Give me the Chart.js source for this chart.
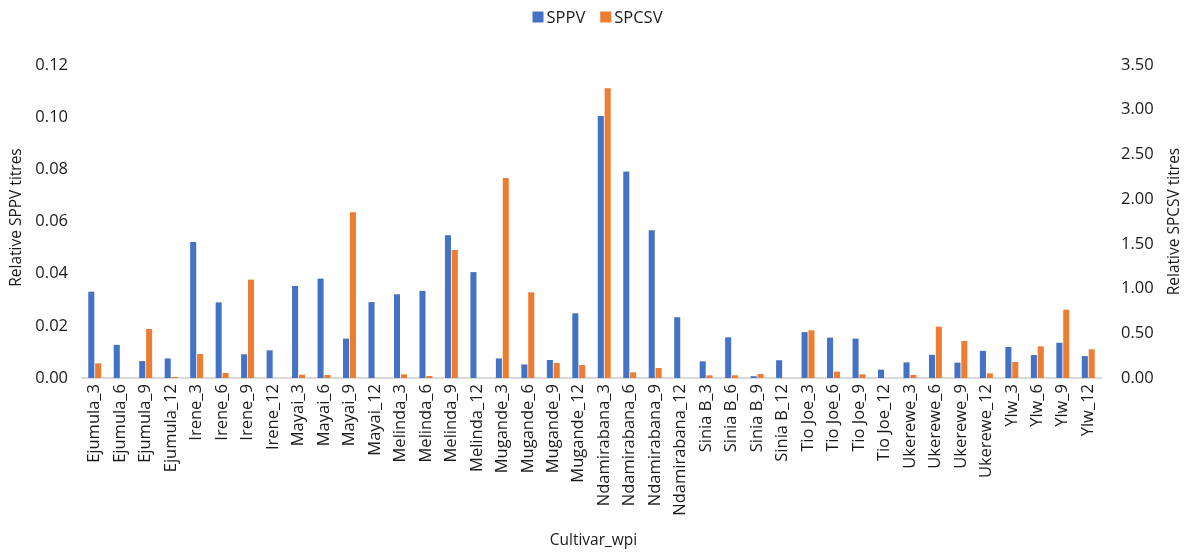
<!DOCTYPE html>
<html>
<head>
<meta charset="utf-8">
<title>SPPV and SPCSV titres by cultivar</title>
<script src="https://cdn.jsdelivr.net/npm/chart.js@4"></script>
<style>
    html, body { margin: 0; padding: 0; background: #fff; }
    #wrap { width: 1189px; height: 553px; }
</style>
</head>
<body>
<div id="wrap"><canvas id="titres"></canvas></div>
<script>
// cultivar x weeks post inoculation
const cultivars = ['Ejumula', 'Irene', 'Mayai', 'Melinda', 'Mugande', 'Ndamirabana', 'Sinia B', 'Tio Joe', 'Ukerewe', 'Ylw'];
const wpi = [3, 6, 9, 12];
const categories = [];
cultivars.forEach(function (c) {
    wpi.forEach(function (w) { categories.push(c + '_' + w); });
});

const sppv = [
    0.0331, 0.0127, 0.0065, 0.0075,
    0.0521, 0.0290, 0.0091, 0.0106,
    0.0353, 0.0381, 0.0151, 0.0291,
    0.0321, 0.0334, 0.0547, 0.0406,
    0.0075, 0.0052, 0.0069, 0.0248,
    0.1004, 0.0792, 0.0566, 0.0233,
    0.0064, 0.0156, 0.0007, 0.0068,
    0.0176, 0.0155, 0.0151, 0.0032,
    0.0060, 0.0089, 0.0059, 0.0104,
    0.0119, 0.0088, 0.0135, 0.0084
];

const spcsv = [
    0.164, 0, 0.548, 0.012,
    0.268, 0.056, 1.100, 0,
    0.037, 0.034, 1.853, 0,
    0.041, 0.022, 1.431, 0,
    2.236, 0.958, 0.168, 0.145,
    3.239, 0.063, 0.112, 0,
    0.030, 0.030, 0.045, 0,
    0.533, 0.071, 0.041, 0,
    0.034, 0.574, 0.414, 0.052,
    0.179, 0.354, 0.764, 0.321
];

const leftTicks = { max: 0.12, step: 0.02 };
const rightTicks = { max: 3.5, step: 0.5 };

const textColor = '#1a1a1a';
const fontFamily = '"Open Sans", "Noto Sans", sans-serif';

// legend row centred above the plot
const legendRow = {
    id: 'legendRow',
    afterDraw(chart) {
        const ctx = chart.ctx;
        ctx.save();
        ctx.font = '16.5px ' + fontFamily;
        ctx.textBaseline = 'middle';
        ctx.textAlign = 'left';
        const box = 11, gap = 3, space = 15, cy = 17;
        const items = chart.data.datasets.map(function (ds) {
            return { text: ds.label, color: ds.backgroundColor, w: ctx.measureText(ds.label).width };
        });
        let total = 0;
        items.forEach(function (it, i) { total += box + gap + it.w + (i ? space : 0); });
        let x = chart.width / 2 - total / 2 + 3;
        items.forEach(function (it) {
            ctx.fillStyle = it.color;
            ctx.fillRect(x, cy - box / 2, box, box);
            ctx.fillStyle = textColor;
            ctx.fillText(it.text, x + box + gap, cy + 1);
            x += box + gap + it.w + space;
        });
        ctx.restore();
    }
};

// axis titles (both y titles read bottom to top)
const axisTitles = {
    id: 'axisTitles',
    afterDraw(chart) {
        const ctx = chart.ctx;
        const area = chart.chartArea;
        const midY = (area.top + area.bottom) / 2 - 4;
        ctx.save();
        ctx.fillStyle = textColor;
        ctx.font = '15.5px ' + fontFamily;
        ctx.textAlign = 'center';
        ctx.textBaseline = 'middle';

        ctx.fillText('Cultivar_wpi', (area.left + area.right) / 2 + 2, 541);

        ctx.save();
        ctx.translate(17, midY);
        ctx.rotate(-Math.PI / 2);
        ctx.fillText('Relative SPPV titres', 0, 0);
        ctx.restore();

        ctx.save();
        ctx.translate(1175, midY + 4);
        ctx.rotate(-Math.PI / 2);
        ctx.fillText('Relative SPCSV titres', 0, 0);
        ctx.restore();

        ctx.restore();
    }
};

new Chart(document.getElementById('titres').getContext('2d'), {
    type: 'bar',
    data: {
        labels: categories,
        datasets: [{
            label: 'SPPV',
            data: sppv,
            backgroundColor: '#4472C4',
            yAxisID: 'y'
        }, {
            label: 'SPCSV',
            data: spcsv,
            backgroundColor: '#ED7D31',
            yAxisID: 'y1'
        }]
    },
    options: {
        responsive: true,
        maintainAspectRatio: false,
        animation: false,
        layout: { padding: { top: 65, left: 0, right: 0, bottom: 0 } },
        datasets: {
            bar: { categoryPercentage: 0.54, barPercentage: 0.88 }
        },
        plugins: {
            legend: { display: false },
            tooltip: { enabled: false }
        },
        scales: {
            x: {
                grid: { display: false, drawTicks: false },
                border: { display: true, color: '#d9d9d9', width: 2 },
                ticks: {
                    autoSkip: false,
                    maxRotation: 90,
                    minRotation: 90,
                    padding: 6,
                    color: textColor,
                    font: { family: fontFamily, size: 16.5 }
                },
                afterFit(scale) { scale.height = 175; }
            },
            y: {
                position: 'left',
                min: 0,
                max: leftTicks.max,
                grid: { display: false, drawTicks: false },
                border: { display: false },
                ticks: {
                    stepSize: leftTicks.step,
                    padding: 14,
                    color: textColor,
                    font: { family: fontFamily, size: 16.5 },
                    callback: function (v) { return v.toFixed(2); }
                },
                afterFit(scale) { scale.width = 82; }
            },
            y1: {
                position: 'right',
                min: 0,
                max: rightTicks.max,
                grid: { display: false, drawTicks: false },
                border: { display: false },
                ticks: {
                    stepSize: rightTicks.step,
                    padding: 20,
                    color: textColor,
                    font: { family: fontFamily, size: 16.5 },
                    callback: function (v) { return v.toFixed(2); }
                },
                afterFit(scale) { scale.width = 88; }
            }
        }
    },
    plugins: [legendRow, axisTitles]
});
</script>
</body>
</html>
